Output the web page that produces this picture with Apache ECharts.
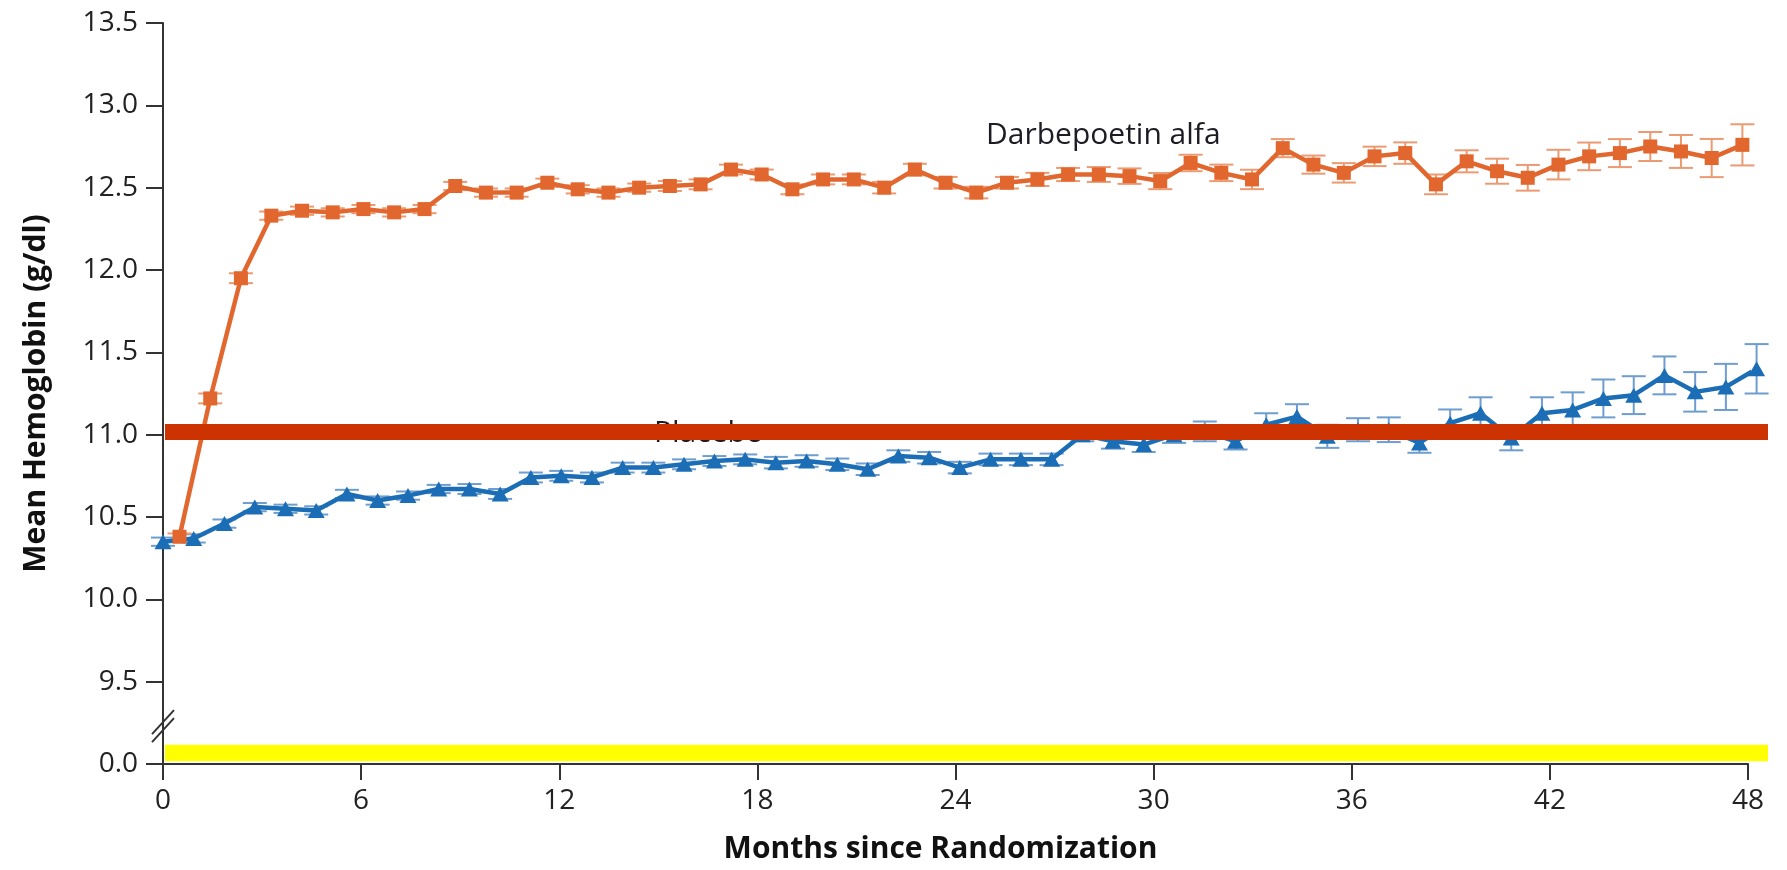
<!DOCTYPE html>
<html>
<head>
<meta charset="utf-8">
<title>Mean Hemoglobin by Treatment Arm</title>
<script src="https://cdn.jsdelivr.net/npm/echarts@6/dist/echarts.min.js"></script>
<style>
  html, body { margin: 0; padding: 0; background: #ffffff; }
  #chart { width: 1787px; height: 870px; }
</style>
</head>
<body>
<div id="chart"></div>
<script>
// ---- Data -------------------------------------------------------------
// Placebo arm: visit month, mean hemoglobin (g/dl) and standard error
const placeboMonths = [0, 0.93, 1.86, 2.78, 3.71, 4.64, 5.57, 6.50, 7.42, 8.35,
  9.28, 10.21, 11.14, 12.06, 12.99, 13.92, 14.85, 15.78, 16.70, 17.63,
  18.56, 19.49, 20.42, 21.34, 22.27, 23.20, 24.13, 25.06, 25.98, 26.91,
  27.84, 28.77, 29.70, 30.62, 31.55, 32.48, 33.41, 34.34, 35.26, 36.19,
  37.12, 38.05, 38.98, 39.90, 40.83, 41.76, 42.69, 43.62, 44.54, 45.47,
  46.40, 47.33, 48.26];
const placeboMean = [10.35, 10.37, 10.46, 10.56, 10.55, 10.54, 10.64, 10.60, 10.63, 10.67,
  10.67, 10.64, 10.74, 10.75, 10.74, 10.80, 10.80, 10.82, 10.84, 10.85,
  10.83, 10.84, 10.82, 10.79, 10.87, 10.86, 10.80, 10.85, 10.85, 10.85,
  11.00, 10.96, 10.94, 11.00, 11.02, 10.96, 11.06, 11.11, 10.99, 11.03,
  11.03, 10.95, 11.07, 11.13, 10.98, 11.13, 11.15, 11.22, 11.24, 11.36,
  11.26, 11.29, 11.40];
const placeboSE = [0.025, 0.025, 0.025, 0.025, 0.025, 0.025, 0.025, 0.025, 0.025, 0.025,
  0.03, 0.03, 0.03, 0.03, 0.03, 0.03, 0.03, 0.03, 0.03, 0.03,
  0.035, 0.035, 0.035, 0.035, 0.035, 0.035, 0.035, 0.035, 0.035, 0.035,
  0.04, 0.045, 0.045, 0.05, 0.06, 0.05, 0.07, 0.075, 0.07, 0.07,
  0.075, 0.06, 0.083, 0.097, 0.075, 0.097, 0.107, 0.115, 0.115, 0.115,
  0.12, 0.14, 0.15];

// Darbepoetin alfa arm
const darbeMonths = [0.50, 1.43, 2.36, 3.28, 4.21, 5.14, 6.07, 7.00, 7.92, 8.85,
  9.78, 10.71, 11.64, 12.56, 13.49, 14.42, 15.35, 16.28, 17.20, 18.13,
  19.06, 19.99, 20.92, 21.84, 22.77, 23.70, 24.63, 25.56, 26.48, 27.41,
  28.34, 29.27, 30.20, 31.12, 32.05, 32.98, 33.91, 34.84, 35.76, 36.69,
  37.62, 38.55, 39.48, 40.40, 41.33, 42.26, 43.19, 44.12, 45.04, 45.97,
  46.90, 47.83];
const darbeMean = [10.38, 11.22, 11.95, 12.33, 12.36, 12.35, 12.37, 12.35, 12.37, 12.51,
  12.47, 12.47, 12.53, 12.49, 12.47, 12.50, 12.51, 12.52, 12.61, 12.58,
  12.49, 12.55, 12.55, 12.50, 12.61, 12.53, 12.47, 12.53, 12.55, 12.58,
  12.58, 12.57, 12.54, 12.65, 12.59, 12.55, 12.74, 12.64, 12.59, 12.69,
  12.71, 12.52, 12.66, 12.60, 12.56, 12.64, 12.69, 12.71, 12.75, 12.72,
  12.68, 12.76];
const darbeSE = [0.02, 0.03, 0.03, 0.025, 0.025, 0.025, 0.025, 0.025, 0.025, 0.025,
  0.025, 0.025, 0.025, 0.025, 0.025, 0.025, 0.03, 0.03, 0.03, 0.03,
  0.03, 0.03, 0.03, 0.035, 0.035, 0.035, 0.035, 0.035, 0.04, 0.04,
  0.045, 0.047, 0.049, 0.05, 0.05, 0.059, 0.055, 0.055, 0.059, 0.059,
  0.065, 0.06, 0.067, 0.076, 0.078, 0.09, 0.084, 0.085, 0.088, 0.10,
  0.116, 0.125];

// Axis setup: the y axis is broken below 9.5, its lowest tick stands for 0.0
const monthTicks = { min: 0, max: 48, step: 6 };
const hbTicks = { min: 9, max: 13.5, step: 0.5 };
const yBreakValue = 9;
const yBreakLabel = '0.0';

// Highlight bands: 11.0 g/dl reference bar and the strip along the baseline
const thresholdLevel = 11.02;
const baselineBand = [9.016, 9.117];

// ---- Styling ----------------------------------------------------------
const FONT = '"Open Sans", "Noto Sans", sans-serif';
const ORANGE = '#E2672E';
const ORANGE_ERR = '#EB9A72';
const BLUE = '#1B6EB5';
const BLUE_ERR = '#6E9DCF';
const AXIS = '#333333';
const TEXT = '#1c1c24';

const chart = echarts.init(document.getElementById('chart'), null, { renderer: 'canvas' });

function errorBars(color) {
  return function (params, api) {
    const x = api.value(0);
    const top = api.coord([x, api.value(2)]);
    const bot = api.coord([x, api.value(1)]);
    const half = 12;
    const style = { stroke: color, lineWidth: 2, fill: null };
    return {
      type: 'group',
      children: [
        { type: 'line', shape: { x1: top[0], y1: top[1], x2: bot[0], y2: bot[1] }, style: style },
        { type: 'line', shape: { x1: top[0] - half, y1: top[1], x2: top[0] + half, y2: top[1] }, style: style },
        { type: 'line', shape: { x1: bot[0] - half, y1: bot[1], x2: bot[0] + half, y2: bot[1] }, style: style }
      ]
    };
  };
}

const placeboPts = placeboMonths.map((m, i) => [m, placeboMean[i]]);
const darbePts = darbeMonths.map((m, i) => [m, darbeMean[i]]);
const placeboErr = placeboMonths.map((m, i) => [m, placeboMean[i] - placeboSE[i], placeboMean[i] + placeboSE[i]]);
const darbeErr = darbeMonths.map((m, i) => [m, darbeMean[i] - darbeSE[i], darbeMean[i] + darbeSE[i]]);

const gridTop = 23, gridBottom = 106, gridLeft = 163;

const option = {
  animation: false,
  backgroundColor: '#ffffff',
  textStyle: { fontFamily: FONT },
  grid: [
    { left: gridLeft, right: 39, top: gridTop, bottom: gridBottom, containLabel: false },
    { left: gridLeft + 2, right: 19, top: gridTop, bottom: gridBottom, containLabel: false }
  ],
  xAxis: [
    {
      type: 'value', gridIndex: 0,
      min: monthTicks.min, max: monthTicks.max, interval: monthTicks.step,
      name: 'Months since Randomization',
      nameLocation: 'middle', nameGap: 70,
      nameTextStyle: { fontFamily: FONT, fontSize: 30, fontWeight: 'bold', color: '#111111', padding: [0, 30, 0, 0] },
      axisLine: { show: true, onZero: false, lineStyle: { color: AXIS, width: 2 } },
      axisTick: { show: true, inside: false, length: 16, lineStyle: { color: AXIS, width: 2 } },
      axisLabel: { fontFamily: FONT, fontSize: 28, color: '#222222', margin: 23 },
      splitLine: { show: false }
    },
    { type: 'value', gridIndex: 1, min: 0, max: 1, show: false }
  ],
  yAxis: [
    {
      type: 'value', gridIndex: 0,
      min: hbTicks.min, max: hbTicks.max, interval: hbTicks.step,
      name: 'Mean Hemoglobin (g/dl)',
      nameLocation: 'middle', nameGap: 112, nameRotate: 90,
      nameTextStyle: { fontFamily: FONT, fontSize: 30, fontWeight: 'bold', color: '#111111' },
      axisLine: { show: true, onZero: false, lineStyle: { color: AXIS, width: 2 } },
      axisTick: { show: true, inside: false, length: 17, lineStyle: { color: AXIS, width: 2 } },
      axisLabel: {
        fontFamily: FONT, fontSize: 28, color: '#222222', margin: 25,
        formatter: v => (Math.abs(v - yBreakValue) < 1e-9 ? yBreakLabel : v.toFixed(1))
      },
      splitLine: { show: false }
    },
    { type: 'value', gridIndex: 1, min: hbTicks.min, max: hbTicks.max, show: false }
  ],
  series: [
    {
      name: 'Placebo SE', type: 'custom', xAxisIndex: 0, yAxisIndex: 0,
      renderItem: errorBars(BLUE_ERR), data: placeboErr,
      encode: { x: 0, y: [1, 2] }, clip: false, z: 1, silent: true
    },
    {
      name: 'Darbepoetin SE', type: 'custom', xAxisIndex: 0, yAxisIndex: 0,
      renderItem: errorBars(ORANGE_ERR), data: darbeErr,
      encode: { x: 0, y: [1, 2] }, clip: false, z: 1, silent: true
    },
    {
      name: 'Placebo', type: 'line', xAxisIndex: 0, yAxisIndex: 0,
      data: placeboPts, clip: false, z: 3,
      symbol: 'triangle', symbolSize: [17, 15], showSymbol: true,
      itemStyle: { color: BLUE },
      lineStyle: { color: BLUE, width: 4.5 },
      emphasis: { disabled: true }
    },
    {
      name: 'Darbepoetin alfa', type: 'line', xAxisIndex: 0, yAxisIndex: 0,
      data: darbePts, clip: false, z: 3,
      symbol: 'rect', symbolSize: 14, showSymbol: true,
      itemStyle: { color: ORANGE },
      lineStyle: { color: ORANGE, width: 4.5 },
      emphasis: { disabled: true }
    },
    {
      name: 'bands', type: 'line', xAxisIndex: 1, yAxisIndex: 1,
      data: [], z: 6, silent: true,
      markLine: {
        silent: true, symbol: ['none', 'none'], animation: false,
        label: { show: false },
        lineStyle: { color: '#CC3300', width: 16, type: 'solid', opacity: 1 },
        emphasis: { disabled: true },
        data: [{ yAxis: thresholdLevel }]
      },
      markArea: {
        silent: true, animation: false,
        itemStyle: { color: '#FFFF00', opacity: 1 },
        emphasis: { disabled: true },
        data: [[{ yAxis: baselineBand[0] }, { yAxis: baselineBand[1] }]]
      }
    }
  ],
  graphic: [
    {
      type: 'text', id: 'darbeLabel', x: 986, y: 135, z: 2,
      style: { text: 'Darbepoetin alfa', font: '30px ' + FONT, fill: TEXT, textVerticalAlign: 'middle', verticalAlign: 'middle' }
    },
    {
      type: 'text', id: 'placeboLabel', x: 654, y: 433, z: 2,
      style: { text: 'Placebo', font: '30px ' + FONT, fill: TEXT, textVerticalAlign: 'middle', verticalAlign: 'middle' }
    }
  ]
};

chart.setOption(option);

// Axis break marker "//" drawn across the y axis just above the bottom tick
const breakCenter = chart.convertToPixel({ gridIndex: 0 }, [0, 9.23]);
const marks = [-4, 4].map((d, i) => ({
  type: 'line', id: 'break' + i, z: 100,
  shape: {
    x1: breakCenter[0] - 11, y1: breakCenter[1] + 12 + d,
    x2: breakCenter[0] + 11, y2: breakCenter[1] - 12 + d
  },
  style: { stroke: AXIS, lineWidth: 2 }
}));
chart.setOption({ graphic: marks });
</script>
</body>
</html>
